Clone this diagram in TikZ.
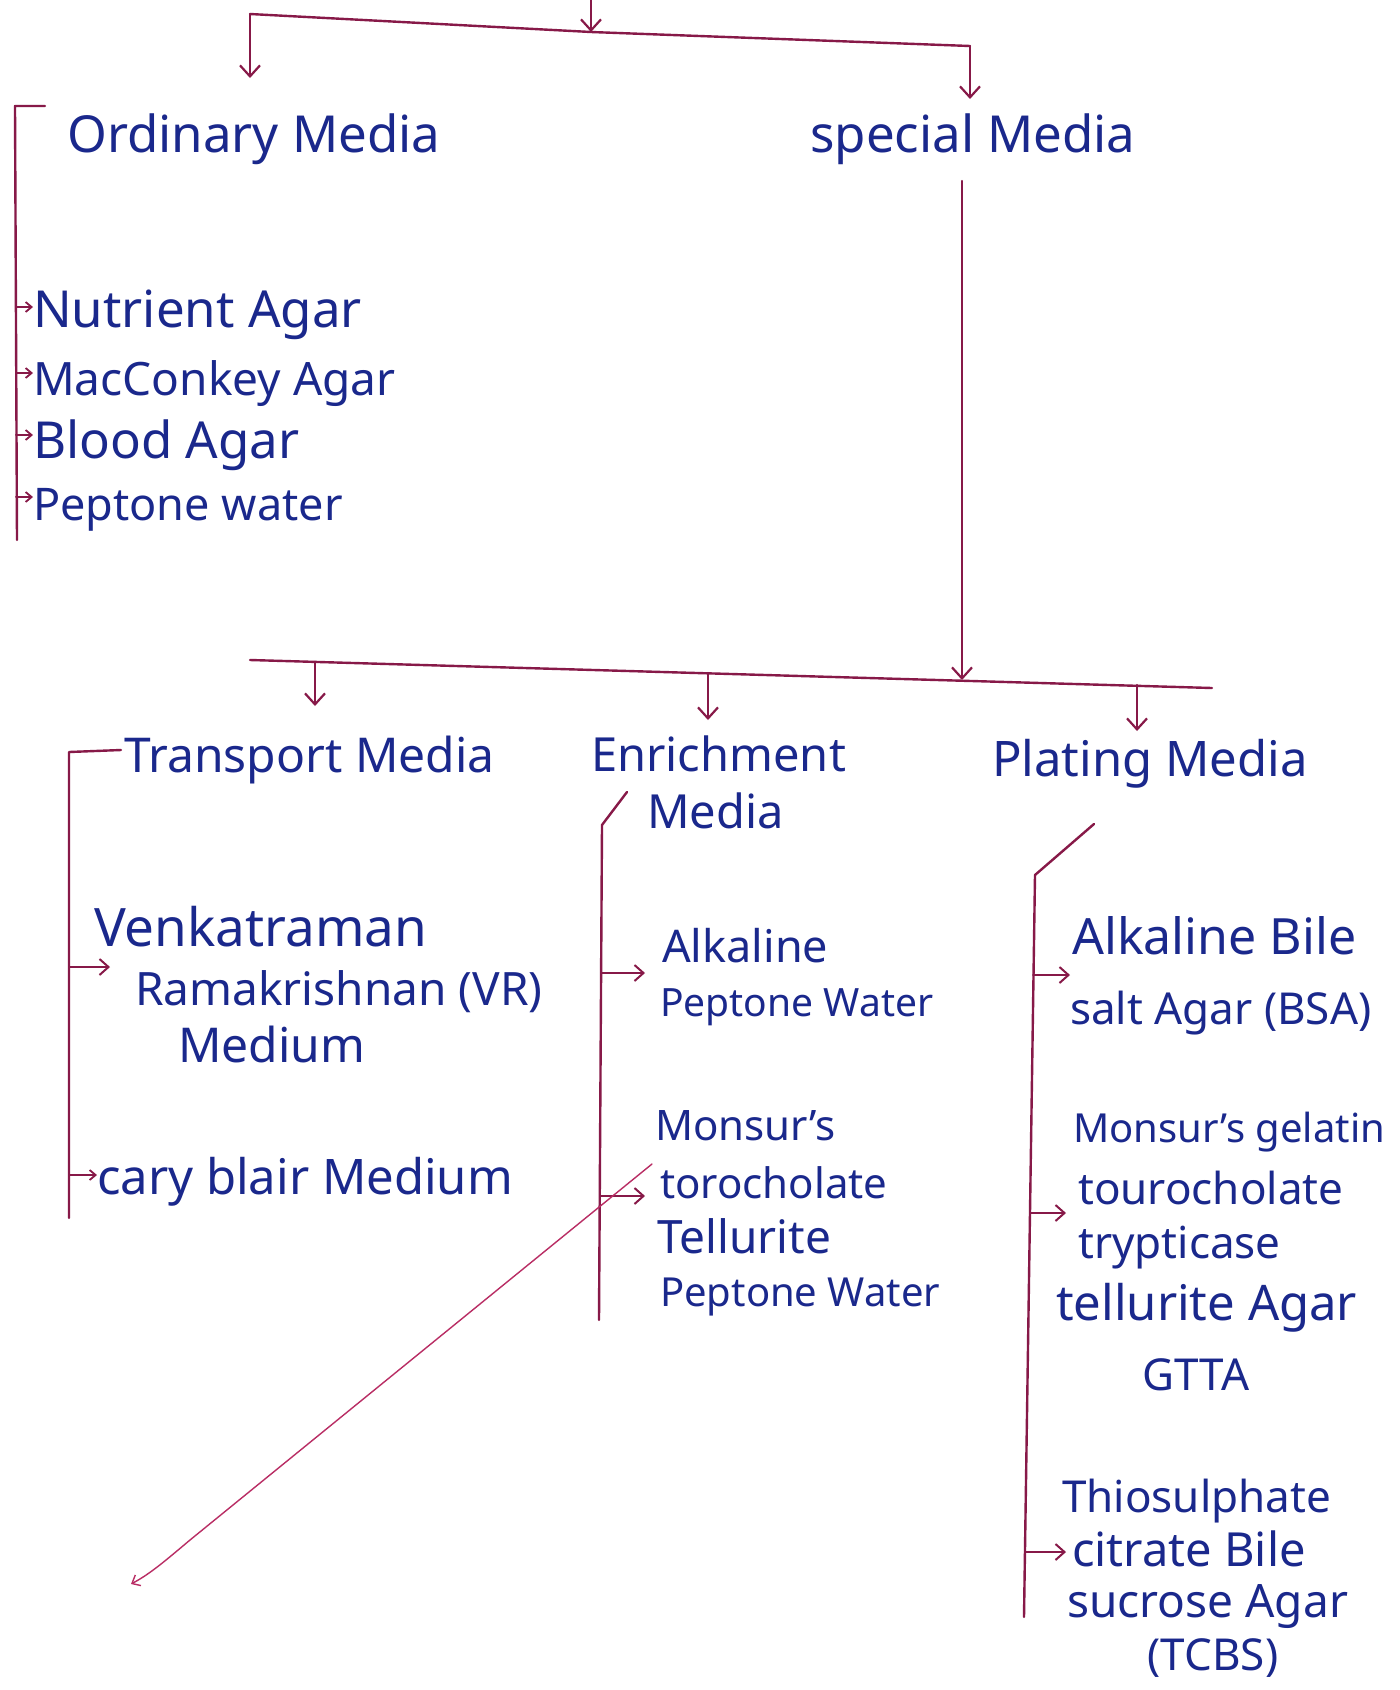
\documentclass[tikz,border=0pt]{standalone}
\usepackage{fontspec}
\setmainfont{Noto Sans}
\usetikzlibrary{arrows.meta}
\definecolor{ink}{RGB}{26,40,140}
\definecolor{pen}{RGB}{135,25,72}
\definecolor{penlight}{RGB}{185,45,100}

\newcommand{\fsz}[1]{\fontsize{#1}{#1}\selectfont}

\begin{document}
\begin{tikzpicture}[x=1pt,y=-1pt,
  txt/.style={text=ink, anchor=base west, inner sep=0pt},
  head/.style={txt, font=\fsz{48}},
  itemA/.style={txt, font=\fsz{46}},
  itemB/.style={txt, font=\fsz{48}},
  itemC/.style={txt, font=\fsz{42}},
  itemD/.style={txt, font=\fsz{44}},
  link/.style={draw=pen, line width=2.4pt, line cap=round, line join=round},
  drop/.style={link, -{Straight Barb[length=11pt,width=20pt,line width=2.2pt]}},
  feed/.style={link, line width=2pt, -{Straight Barb[length=9pt,width=16pt,line width=2pt]}},
  tiny/.style={link, line width=2pt, -{Straight Barb[length=6pt,width=10pt,line width=1.8pt]}},
]
\fill[white] (0,0) rectangle (1400,1690);
\useasboundingbox (0,0) rectangle (1400,1690);

% ---------- first level ----------
\coordinate (root) at (591,0);
\coordinate (barL) at (250,14);
\coordinate (barM) at (591,32);
\coordinate (barR) at (970,46);
\coordinate (ordTip) at (250,78);
\coordinate (specTip) at (970,99);

\node[head, font=\fsz{51}] (ord) at (67,152) {Ordinary Media};
\node[head, font=\fsz{51}] (spec) at (810,152) {special Media};

\draw[link] (barL) -- (barM) -- (barR);
\draw[drop] (root) -- (barM);
\draw[drop] (barL) -- (ordTip);
\draw[drop] (barR) -- (specTip);

% ---------- ordinary media list ----------
\coordinate (oTop) at (45,106);
\coordinate (oCorner) at (15,106);
\coordinate (oEnd) at (17,540);
\draw[link] (oTop) -- (oCorner) -- (oEnd);

\node[itemA, font=\fsz{51}] (nut) at (33,327) {Nutrient Agar};
\node[itemA] (mac) at (33,395) {MacConkey Agar};
\node[itemA, font=\fsz{51}] (blood) at (33,458) {Blood Agar};
\node[itemA, font=\fsz{45}] (pep) at (33,520) {Peptone water};

\foreach \n/\yy in {nut/307, mac/373, blood/435, pep/497}
  \draw[tiny] (16,\yy) -- (\n.west |- 0,\yy);

% ---------- special media branch ----------
\coordinate (specFoot) at (962,181);
\coordinate (bar2L) at (250,660);
\coordinate (bar2R) at (1212,688);
\coordinate (bar2S) at (962,680);
\draw[link] (bar2L) -- (bar2R);
\draw[drop] (specFoot) -- (bar2S);

\coordinate (tTop) at (315,662);
\coordinate (eTop) at (708,673);
\coordinate (pTop) at (1137,685);
\draw[drop] (tTop) -- (315,706);
\draw[drop] (eTop) -- (708,720);
\draw[drop] (pTop) -- (1137,731);

\node[head] (trans) at (124,772) {Transport Media};
\node[head, font=\fsz{47}] (enr) at (591,771) {Enrichment};
\node[head, font=\fsz{47}] (enr2) at (647,828) {Media};
\node[head, font=\fsz{49}] (plat) at (992,776) {Plating Media};

% ---------- transport media ----------
\draw[link] (121,750) -- (69,752) -- (69,1218);
\node[itemB, font=\fsz{53}] (venk) at (94,946) {Venkatraman};
\node[itemB, font=\fsz{46}] (rama) at (135,1005) {Ramakrishnan (VR)};
\node[itemB] (vrmed) at (178,1062) {Medium};
\node[itemB, font=\fsz{49}] (cary) at (97,1194) {cary blair Medium};
\draw[feed] (69,967) -- (110,967);
\draw[tiny] (69,1175) -- (cary.west |- 0,1175);

% ---------- enrichment media ----------
\draw[link] (627,792) -- (602,825) -- (599,1320);
\node[itemC, font=\fsz{45}] (alk) at (662,962) {Alkaline};
\node[itemC, font=\fsz{39}] (apw) at (660,1016) {Peptone Water};
\node[itemC] (mon) at (655,1140) {Monsur's};
\node[itemC] (taur) at (660,1198) {torocholate};
\node[itemC, font=\fsz{46}] (tell) at (657,1253) {Tellurite};
\node[itemC, font=\fsz{40}] (mpw) at (660,1306) {Peptone Water};
\draw[feed] (601,973) -- (645,973);
\draw[feed] (600,1196) -- (645,1196);

% long crossing stroke
\draw[draw=penlight, line width=1.4pt, line cap=round,
      -{Straight Barb[length=7pt,width=12pt,line width=1.4pt]}]
  (652,1164) -- (190,1540) .. controls (165,1561) and (150,1574) .. (131,1584);

% ---------- plating media ----------
\draw[link] (1094,824) -- (1035,875) -- (1024,1617);
\node[itemD, font=\fsz{50}] (abs1) at (1072,954) {Alkaline Bile};
\node[itemD] (abs2) at (1070,1024) {salt Agar (BSA)};
\node[itemD, font=\fsz{40}] (gt1) at (1073,1142) {Monsur's gelatin};
\node[itemD] (gt2) at (1078,1204) {tourocholate};
\node[itemD] (gt3) at (1078,1258) {trypticase};
\node[itemD, font=\fsz{49}] (gt4) at (1056,1320) {tellurite Agar};
\node[itemD, anchor=base] (gt5) at (1196,1390) {GTTA};
\node[itemD] (tc1) at (1062,1512) {Thiosulphate};
\node[itemD, font=\fsz{47}] (tc2) at (1072,1566) {citrate Bile};
\node[itemD, font=\fsz{46}] (tc3) at (1067,1617) {sucrose Agar};
\node[itemD, anchor=base] (tc4) at (1213,1670) {(TCBS)};
\draw[feed] (1033,975) -- (1070,975);
\draw[feed] (1030,1213) -- (1066,1213);
\draw[feed] (1026,1552) -- (1066,1552);
\end{tikzpicture}
\end{document}
